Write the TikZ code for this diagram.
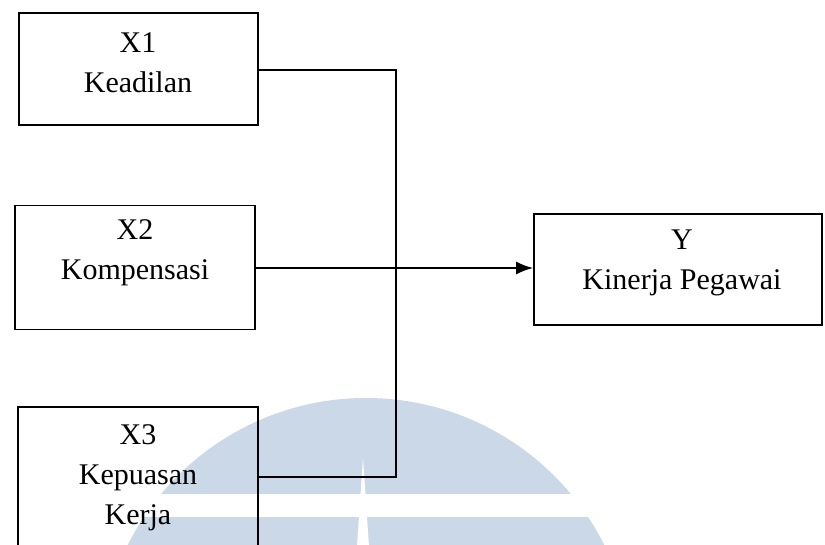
\documentclass[tikz,border=0pt]{standalone}
\usepackage{fontspec}
\setmainfont{Liberation Serif}
\usetikzlibrary{arrows.meta}
\definecolor{wm}{RGB}{203,216,232}
\tikzset{
  box/.style={draw=black, line width=1.8pt, rectangle, inner sep=0pt},
  lbl/.style={align=center, font=\fontsize{30}{40}\selectfont, inner sep=0pt},
  conn/.style={draw=black, line width=1.8pt},
  arr/.style={conn, -{Latex[length=17pt,width=13pt]}}
}
\begin{document}
\begin{tikzpicture}[x=1pt,y=-1pt]
\useasboundingbox (0,0) rectangle (825,545);
\fill[white] (0,0) rectangle (825,545);
% watermark
\begin{scope}
\clip (0,0) rectangle (825,545);
\fill[wm] (366,664.5) circle (266.5);
\fill[white] (0,494) rectangle (825,517);
\fill[white] (363,458) -- (357,546) -- (369,546) -- cycle;
\end{scope}
% boxes
\node[box, minimum width=239pt, minimum height=112pt] (x1) at (138.5,69) {};
\node[box, minimum width=240pt, minimum height=124pt] (x2) at (135,267.5) {};
\node[box, minimum width=240pt, minimum height=140pt] (x3) at (138,477) {};
\node[box, minimum width=288pt, minimum height=111pt] (y) at (678,269.5) {};
% texts
\node[lbl] (x1t) at (138,63) {X1\\Keadilan};
\node[lbl] (x2t) at (135,253) {X2\\Kompensasi};
\node[lbl] (x3t) at (138,478) {X3\\Kepuasan\\Kerja};
\node[lbl] (yt) at (682,263) {Y\\Kinerja Pegawai};
% connectors
\coordinate (c1) at (396,70);
\coordinate (c2) at (396,477);
\draw[conn] (x1.east |- c1) -- (c1) -- (c2) -- (x3.east |- c2);
\draw[arr] (x2.east |- 0,268) -- (y.west |- 0,268);
\end{tikzpicture}
\end{document}
